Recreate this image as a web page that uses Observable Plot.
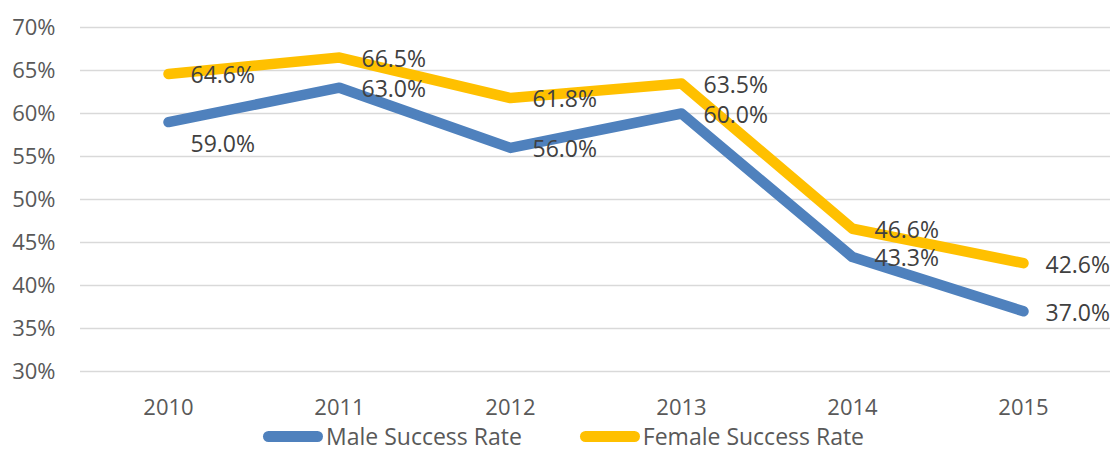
<!DOCTYPE html>
<html>
<head>
<meta charset="utf-8">
<script src="https://cdn.jsdelivr.net/npm/d3@7"></script>
<script src="https://cdn.jsdelivr.net/npm/@observablehq/plot@0.6"></script>
<style>
  html, body { margin: 0; background: #fff; font-family: "Open Sans", sans-serif; overflow: hidden; }
  #chart svg { display: block; }
  .legend { display: flex; align-items: center; box-sizing: border-box; height: 32px; padding-left: 263px; font-size: 23px; line-height: 31px; color: #595959; }
  .legend .item { display: flex; align-items: center; }
  .legend .sw { width: 60px; height: 11px; border-radius: 5.5px; margin-right: 3px; }
</style>
</head>
<body>
<div id="chart"></div>
<script>
const years = ["2010", "2011", "2012", "2013", "2014", "2015"];
const male = [59.0, 63.0, 56.0, 60.0, 43.3, 37.0];
const female = [64.6, 66.5, 61.8, 63.5, 46.6, 42.6];
const seriesNames = ["Male Success Rate", "Female Success Rate"];
const seriesColors = ["#4F81BD", "#FFC000"];
const yTicks = [30, 35, 40, 45, 50, 55, 60, 65, 70];

const data = [];
years.forEach((y, i) => data.push({year: y, value: male[i], series: seriesNames[0]}));
years.forEach((y, i) => data.push({year: y, value: female[i], series: seriesNames[1]}));

const isSpecial = d => d.series === seriesNames[0] && d.year === years[0];

const chart = Plot.plot({
  width: 1115,
  height: 420,
  marginTop: 27,
  marginBottom: 49,
  marginLeft: 80,
  marginRight: 5,
  style: { fontFamily: "Open Sans, sans-serif", fontSize: "22px", color: "#595959", background: "#fff" },
  x: { type: "point", domain: years, padding: 0.5, label: null, tickSize: 0, tickPadding: 28 },
  y: { domain: [30, 70], ticks: yTicks, tickFormat: d => d + "%", label: null, tickSize: 0, tickPadding: 25 },
  color: { domain: seriesNames, range: seriesColors },
  marks: [
    Plot.ruleY(yTicks, { stroke: "#D9D9D9", strokeWidth: 1.5 }),
    Plot.line(data, { x: "year", y: "value", z: "series", stroke: "series", strokeWidth: 10.5, strokeLinecap: "round", strokeLinejoin: "round" }),
    Plot.text(data.filter(d => !isSpecial(d)), { x: "year", y: "value", text: d => d.value.toFixed(1) + "%", textAnchor: "start", dx: 22, dy: 2, fill: "#404040", fontSize: 23 }),
    Plot.text(data.filter(isSpecial), { x: "year", y: "value", text: d => d.value.toFixed(1) + "%", textAnchor: "start", dx: 22, dy: 23, fill: "#404040", fontSize: 23 })
  ]
});
document.getElementById("chart").appendChild(chart);

const legend = document.createElement("div");
legend.className = "legend";
seriesNames.forEach((name, i) => {
  const item = document.createElement("div");
  item.className = "item";
  if (i > 0) item.style.marginLeft = "58px";
  const sw = document.createElement("span");
  sw.className = "sw";
  sw.style.background = seriesColors[i];
  const label = document.createElement("span");
  label.textContent = name;
  item.appendChild(sw);
  item.appendChild(label);
  legend.appendChild(item);
});
document.body.appendChild(legend);
</script>
</body>
</html>
